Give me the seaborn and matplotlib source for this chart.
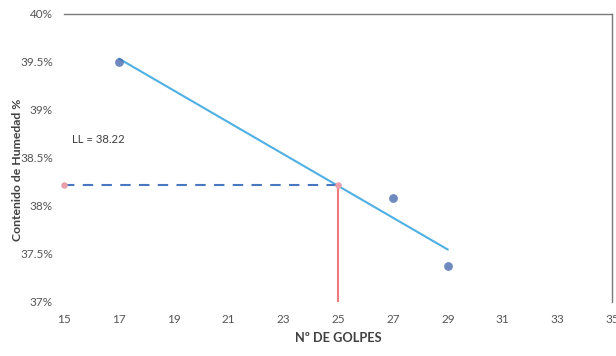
import numpy as np
import pandas as pd
import matplotlib
matplotlib.use("Agg")
import matplotlib.pyplot as plt
from matplotlib.ticker import FuncFormatter
import seaborn as sns

# Ensayo de límite líquido (Casagrande)
golpes = [17, 27, 29]
humedad = [39.50, 38.08, 37.375]
limite_liquido = 38.22
golpes_ll = 25
x_ticks = [15, 17, 19, 21, 23, 25, 27, 29, 31, 33, 35]
y_ticks = [37, 37.5, 38, 38.5, 39, 39.5, 40]

sns.set_theme(style="white")
plt.rcParams["font.family"] = ["Lato", "DejaVu Sans"]

df = pd.DataFrame({"golpes": golpes, "humedad": humedad})

fig = plt.figure(figsize=(6.16, 3.56), dpi=100)
ax = fig.add_axes([0.104, 0.152, 0.890, 0.809])

sns.regplot(data=df, x="golpes", y="humedad", ax=ax, ci=None,
            scatter_kws=dict(color="#4a6db0", s=40, zorder=3, linewidths=0),
            line_kws=dict(color="#4fb0e4", lw=1.5, zorder=2))

# Líneas de lectura del límite líquido
ax.plot([x_ticks[0], golpes_ll], [limite_liquido, limite_liquido],
        color="#4a78c0", lw=1.5, ls=(0, (5, 4)), zorder=2)
ax.plot([golpes_ll, golpes_ll], [y_ticks[0], limite_liquido],
        color="#ee7a7e", lw=1.5, zorder=2)
ax.scatter([x_ticks[0], golpes_ll], [limite_liquido, limite_liquido],
           color="#e9a0aa", s=22, zorder=4, linewidths=0, clip_on=False)
ax.text(15.3, 38.69, f"LL = {limite_liquido:.2f}", fontsize=8.2,
        color="#404040", va="center", ha="left")

ax.set_xlim(x_ticks[0], x_ticks[-1])
ax.set_ylim(y_ticks[0], y_ticks[-1])
ax.set_xticks(x_ticks)
ax.set_yticks(y_ticks)
ax.yaxis.set_major_formatter(FuncFormatter(lambda v, p: f"{v:g}%"))
ax.tick_params(axis="both", length=0, labelsize=8.5, colors="#555555")
ax.tick_params(axis="x", pad=9)
ax.tick_params(axis="y", pad=8)

for side in ["left", "bottom"]:
    ax.spines[side].set_visible(False)
for side in ["top", "right"]:
    ax.spines[side].set_visible(True)
    ax.spines[side].set_color("#7a7a7a")
    ax.spines[side].set_linewidth(1.0)

ax.set_xlabel("Nº DE GOLPES", fontsize=9.2, fontweight="bold", color="#404040", labelpad=5)
ax.set_ylabel("Contenido de Humedad %", fontsize=8.8, fontweight="bold", color="#404040")
ax.yaxis.set_label_coords(-0.074, 0.46)

fig.savefig("out.png", dpi=100)
